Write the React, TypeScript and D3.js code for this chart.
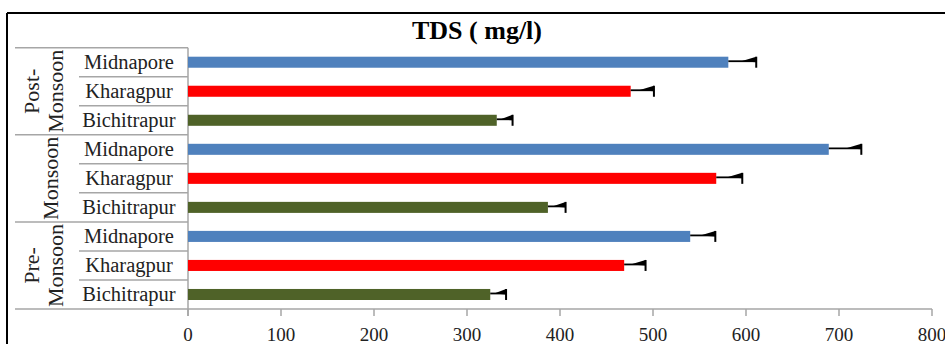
import React from "react";
import * as d3 from "d3";

const seasons = ["Post-Monsoon", "Monsoon", "Pre-Monsoon"];
const seasonLines = [["Post-", "Monsoon"], ["Monsoon"], ["Pre-", "Monsoon"]];
const sites = ["Midnapore", "Kharagpur", "Bichitrapur"];
const postValues = [581, 476, 332];
const monsoonValues = [689, 568, 387];
const preValues = [540, 469, 325];
const postErrors = [30, 25, 17];
const monsoonErrors = [35, 28, 19];
const preErrors = [27, 23, 17];
const xTicks = [0, 100, 200, 300, 400, 500, 600, 700, 800];
const siteColors = ["#4F81BD", "#FF0000", "#4F6228"];

const W = 945;
const H = 347;

export default function App() {
  const valuesBySeason = [postValues, monsoonValues, preValues];
  const errorsBySeason = [postErrors, monsoonErrors, preErrors];
  const rows = seasons.flatMap((s, si) =>
    sites.map((site, i) => ({
      key: s + "|" + site,
      season: si,
      site,
      si: i,
      value: valuesBySeason[si][i],
      err: errorsBySeason[si][i],
    }))
  );

  const x = d3.scaleLinear().domain([0, 800]).range([188, 932]);
  const y = d3
    .scaleBand<string>()
    .domain(rows.map((r) => r.key))
    .range([47.7, 309])
    .paddingInner(0.62)
    .paddingOuter(0.31);
  const y0 = 47.7;
  const rowH = (309 - 47.7) / rows.length;
  const grid = "#A6A6A6";
  const serif = "'Liberation Serif', 'DejaVu Serif', serif";

  return (
    <svg
      width={W}
      height={H}
      style={{ position: "absolute", left: 0, top: 0, background: "#fff" }}
      xmlns="http://www.w3.org/2000/svg"
    >
      {/* frame */}
      <line x1={7} y1={13} x2={W} y2={13} stroke="#000" strokeWidth={2} />
      <line x1={7} y1={13} x2={7} y2={344} stroke="#000" strokeWidth={2} />

      {/* title */}
      <text
        x={477}
        y={39}
        textAnchor="middle"
        fontFamily={serif}
        fontWeight="bold"
        fontSize={26}
        fill="#000"
      >
        TDS ( mg/l)
      </text>

      {/* category label grid */}
      {rows.map((r, i) => {
        const yy = y0 + i * rowH;
        const isGroupStart = i % 3 === 0;
        return (
          <line
            key={"sep" + i}
            x1={isGroupStart ? 15 : 79}
            x2={188}
            y1={yy}
            y2={yy}
            stroke={grid}
            strokeWidth={1.5}
          />
        );
      })}
      <line x1={15} x2={932} y1={309} y2={309} stroke={grid} strokeWidth={1.5} />
      <line x1={188} x2={188} y1={47.7} y2={316} stroke={grid} strokeWidth={1.5} />
      {xTicks.map((t) => (
        <g key={"t" + t}>
          <line x1={x(t)} x2={x(t)} y1={309} y2={316} stroke={grid} strokeWidth={1.5} />
          <text
            x={x(t)}
            y={341}
            textAnchor="middle"
            fontFamily={serif}
            fontSize={19}
            fill="#222"
          >
            {t}
          </text>
        </g>
      ))}

      {/* season labels */}
      {seasons.map((s, si) => {
        const cy = y0 + (si * 3 + 1.5) * rowH;
        const lines = seasonLines[si];
        const xs = lines.length === 2 ? [31, 55] : [50];
        return (
          <g key={s}>
            {lines.map((ln, li) => (
              <text
                key={ln + li}
                transform={`translate(${xs[li]},${cy}) rotate(-90)`}
                textAnchor="middle"
                dominantBaseline="central"
                fontFamily={serif}
                fontSize={22}
                fill="#222"
              >
                {ln}
              </text>
            ))}
          </g>
        );
      })}

      {/* site labels */}
      {rows.map((r, i) => (
        <text
          key={"lab" + r.key}
          x={129}
          y={y0 + (i + 0.5) * rowH}
          textAnchor="middle"
          dominantBaseline="central"
          fontFamily={serif}
          fontSize={20.5}
          fill="#222"
        >
          {r.site}
        </text>
      ))}

      {/* bars */}
      {rows.map((r) => (
        <rect
          key={"bar" + r.key}
          x={x(0)}
          y={y(r.key)!}
          width={x(r.value) - x(0)}
          height={y.bandwidth()}
          fill={siteColors[r.si]}
        />
      ))}

      {/* error bars */}
      {rows.map((r) => {
        const c = y(r.key)! + y.bandwidth() / 2;
        const x1 = x(r.value);
        const x2 = x(r.value + r.err);
        const wedge = Math.min(15, (x2 - x1) * 0.75);
        return (
          <g key={"err" + r.key}>
            <line x1={x1} x2={x2} y1={c - 1} y2={c - 1} stroke="#000" strokeWidth={1.8} />
            <polygon
              points={`${x2 - wedge},${c - 1} ${x2},${c - 5.5} ${x2},${c}`}
              fill="#000"
            />
            <line x1={x2} x2={x2} y1={c - 5.5} y2={c + 5.5} stroke="#000" strokeWidth={2} />
          </g>
        );
      })}
    </svg>
  );
}
